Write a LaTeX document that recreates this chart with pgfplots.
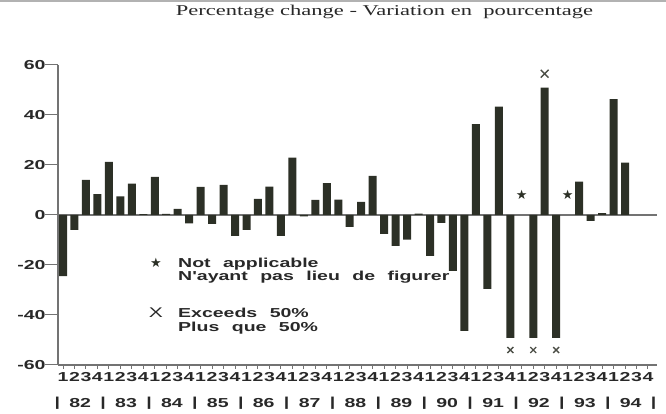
\documentclass[border=0pt]{standalone}
\usepackage{fontspec}
\setmainfont{Liberation Serif}[FakeStretch=1.5]
\newfontfamily\lab{Liberation Sans}[FakeStretch=1.5, WordSpace=2.3]
\newfontfamily\sym{DejaVu Sans}
\usepackage{pgfplots}
\pgfplotsset{compat=1.18}

\definecolor{barc}{RGB}{44,48,38}
\definecolor{axc}{RGB}{115,115,115}
\definecolor{txt}{RGB}{40,40,40}

\newcommand{\labfont}{\lab\bfseries\fontsize{13}{15}\selectfont}

\begin{document}
\begin{tikzpicture}
\path[use as bounding box] (0,0) rectangle (666pt,414pt);
\draw[gray!60, line width=1.5pt] (0,413.2pt) -- (666pt,413.2pt);

\node[anchor=base, inner sep=0, text=txt, font=\fontsize{15}{18}\selectfont]
  at (384.5pt,398pt) {Percentage change - Variation en~\ pourcentage};

\begin{axis}[
    at={(58pt,49pt)}, anchor=south west,
    scale only axis, width=599pt, height=300pt,
    xmin=0.564, xmax=52.79, ymin=-60, ymax=60,
    axis lines=left,
    axis line style={-, draw=axc, line width=1.2pt},
    tick align=outside,
    major tick length=4pt,
    tick style={draw=axc, line width=1pt},
    ytick={-60,-40,...,60},
    ytick style={/pgfplots/major tick length=13pt},
    yticklabel style={xshift=-5pt},
    xtick={1,...,52},
    xticklabels={1,2,3,4,1,2,3,4,1,2,3,4,1,2,3,4,1,2,3,4,1,2,3,4,1,2,3,4,
                 1,2,3,4,1,2,3,4,1,2,3,4,1,2,3,4,1,2,3,4,1,2,3,4},
    ticklabel style={font=\labfont, text=txt},
    /pgf/number format/assume math mode=true,
    clip=false,
]
% zero line
\addplot[axc, line width=1.2pt, no marks] coordinates {(0.564,0) (52.79,0)};

% quarterly percentage change, 1982 Q1 - 1994 Q2 (41 and 45 not applicable)
\addplot[ybar, bar width=8pt, fill=barc, draw=none] coordinates {
 (1,-24.5) (2,-6) (3,14) (4,8.3) (5,21.2) (6,7.4) (7,12.5) (8,0.3)
 (9,15.2) (10,0.4) (11,2.4) (12,-3.4) (13,11.2) (14,-3.6) (15,12) (16,-8.4)
 (17,-6) (18,6.4) (19,11.3) (20,-8.4) (21,22.9) (22,-0.6) (23,6) (24,12.7)
 (25,6.1) (26,-4.8) (27,5.2) (28,15.6) (29,-7.6) (30,-12.4) (31,-9.9) (32,0.5)
 (33,-16.4) (34,-3.2) (35,-22.4) (36,-46.4) (37,36.3) (38,-29.6) (39,43.3) (40,-49.2)
 (42,-49.2) (43,50.9) (44,-49.2)
 (46,13.3) (47,-2.4) (48,0.7) (49,46.3) (50,20.9)
};

% not applicable
\addplot[only marks, mark=text, text mark={\sym\fontsize{13}{13}\selectfont\textcolor{barc}{★}}]
  coordinates {(41,8) (45,8)};
% exceeds 50%
\addplot[only marks, mark=x, mark size=4.2pt, line width=1.4pt, color=barc!85!white]
  coordinates {(40,-54) (42,-54) (44,-54)};
\addplot[only marks, mark=x, mark size=5.5pt, line width=1.4pt, color=barc!85!white]
  coordinates {(43,56.5)};

% year row
\pgfplotsinvokeforeach{82,...,94}{
  \node[font=\labfont, text=txt, anchor=base] at (axis cs:{(#1-82)*4+2.5},-60) [yshift=-43pt] {#1};
}
\pgfplotsinvokeforeach{0,...,13}{
  \node[font=\labfont, text=txt, anchor=base] at (axis cs:{4*#1+0.5},-60) [yshift=-42pt] {|};
}
\end{axis}

% key
\node[text=barc] at (156pt,151pt) {\sym\fontsize{13}{13}\selectfont ★};
\node[text=txt, font=\lab\fontsize{14}{15}\selectfont] at (156pt,101pt) {X};
\node[anchor=base west, inner sep=0, text=txt, font=\labfont] at (178pt,146pt) {Not applicable};
\node[anchor=base west, inner sep=0, text=txt, font=\labfont] at (178pt,133pt) {N'ayant pas lieu de figurer};
\node[anchor=base west, inner sep=0, text=txt, font=\labfont] at (178pt,96pt) {Exceeds 50\%};
\node[anchor=base west, inner sep=0, text=txt, font=\labfont] at (178pt,82pt) {Plus que 50\%};
\end{tikzpicture}
\end{document}
